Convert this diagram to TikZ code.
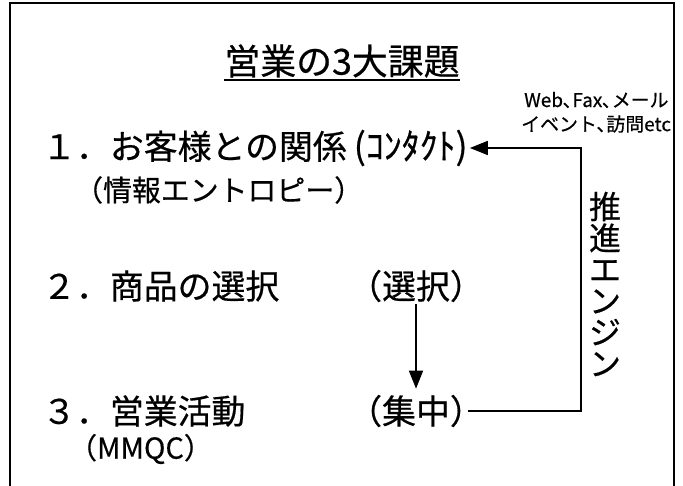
\documentclass[tikz,border=0pt]{standalone}
\usepackage{fontspec}
\setmainfont{Noto Sans CJK JP}[FakeBold=0.5]
\usetikzlibrary{arrows.meta}
\tikzset{
  big/.style={inner sep=0pt, font=\fontsize{34}{40}\selectfont},
  sub/.style={inner sep=0pt, font=\fontsize{29}{33}\selectfont},
  note/.style={inner sep=0pt, font=\fontsize{19}{23}\selectfont, anchor=west},
  conn/.style={line width=1.4bp, -{Triangle[length=18bp,width=14bp]}},
}
\begin{document}
\begin{tikzpicture}[x=1bp,y=-1bp]
\useasboundingbox (0,0) rectangle (683,486);
\draw[line width=2.2bp] (10,487) -- (10,3) -- (674,3) -- (674,487);
% title
\node[inner sep=0pt, font=\fontsize{36}{42}\selectfont] (title) at (342,61) {営業の3大課題};
\draw[line width=1.8bp] ([yshift=-2bp]title.south west) -- ([yshift=-2bp]title.south east);
% notes
\node[note] (n1) at (524,100) {Web､Fax､メール};
\node[note] (n2) at (521,124) {イベント､訪問etc};
% items
\node[big, anchor=west] (item1) at (42,148) {１．お客様との関係\hspace{7bp}{\fontsize{36}{40}\selectfont(ｺﾝﾀｸﾄ)}};
\node[sub, anchor=west] (sub1) at (74,190) {（情報エントロピー）};
\node[big, anchor=west] (item2) at (42,286) {２．商品の選択};
\node[big] (sentaku) at (416,286) {（選択）};
\node[big, anchor=west] (item3) at (42,411) {３．営業活動};
\node[big] (shuchu) at (416,411) {（集中）};
\node[sub, anchor=west] (sub3) at (68,449) {（MMQC）};
% vertical label
\node[inner sep=0pt, font=\fontsize{32}{31.5}\selectfont, align=center] (engine) at (605,284) {推\\進\\エ\\ン\\ジ\\ン};
% connectors
\coordinate (rail) at (581,0);
\draw[conn, shorten <=2bp, shorten >=6bp] (sentaku.south) -- (shuchu.north);
\draw[conn, shorten <=-16bp, shorten >=2bp] (shuchu.east) -| (item1.east -| rail) -- (item1.east);
\end{tikzpicture}
\end{document}
